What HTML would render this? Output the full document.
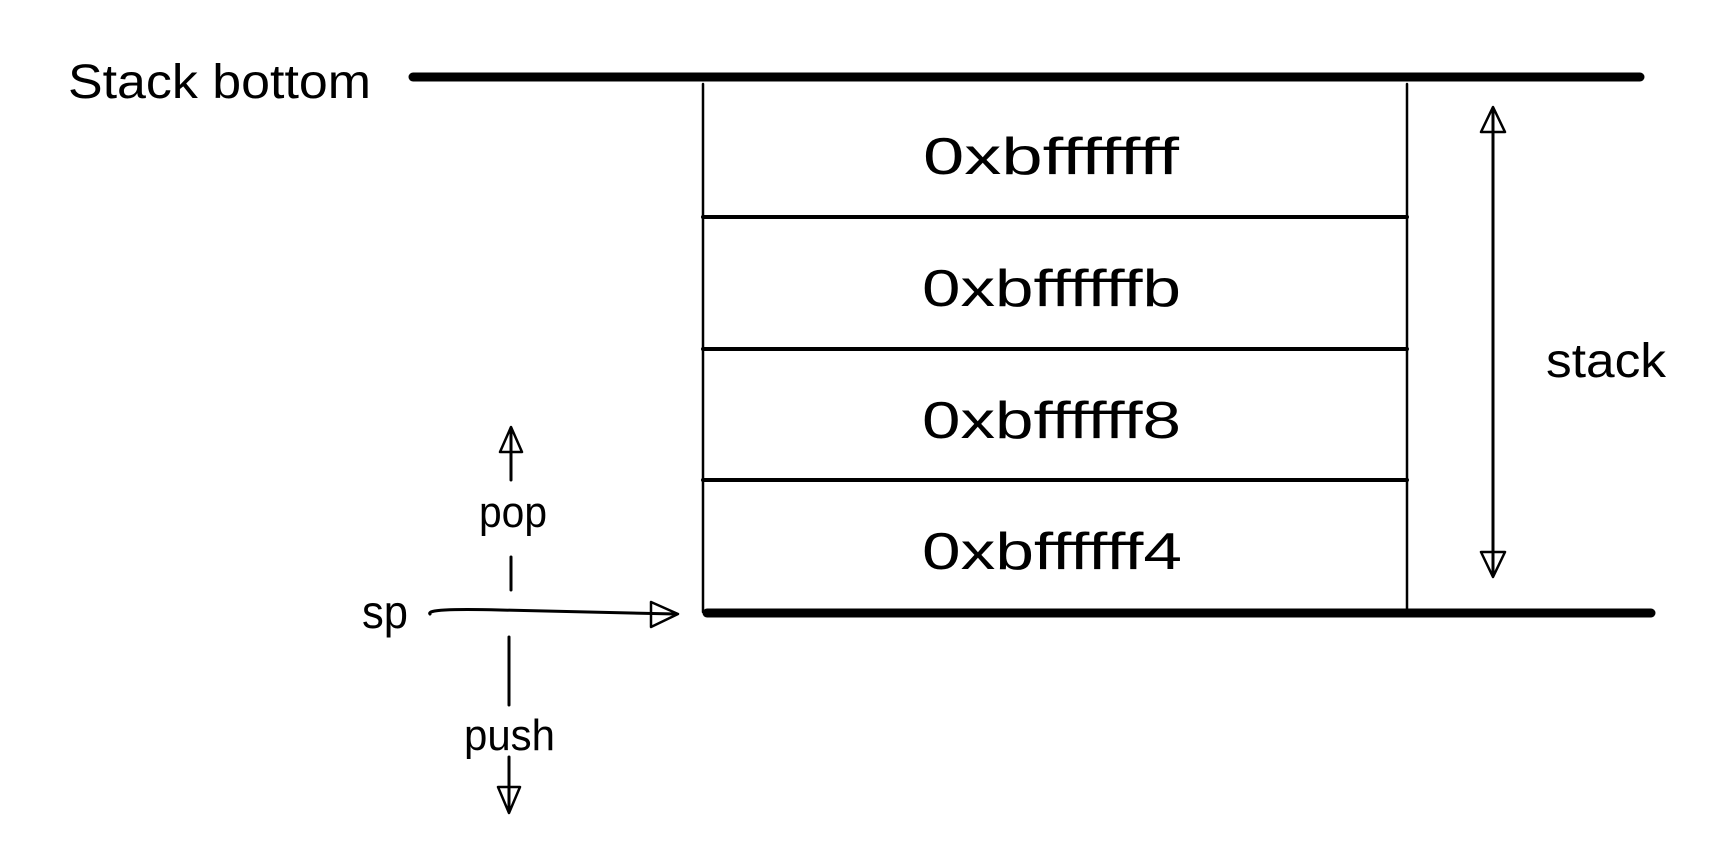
<!DOCTYPE html>
<html><head><meta charset="utf-8"><style>
html,body{margin:0;padding:0;background:#fff;}
svg{display:block}
text{font-family:"Liberation Sans",sans-serif;fill:#000;}
</style></head><body>
<svg width="1728" height="856" viewBox="0 0 1728 856" xmlns="http://www.w3.org/2000/svg">
<g stroke="#000" fill="none" stroke-linecap="round" stroke-linejoin="round">
  <line x1="413" y1="77" x2="1640" y2="77" stroke-width="9"/>
  <line x1="707" y1="613" x2="1651" y2="613" stroke-width="9"/>
  <line x1="703" y1="84" x2="703" y2="612" stroke-width="2.5"/>
  <line x1="1407" y1="84" x2="1407" y2="612" stroke-width="2.5"/>
  <line x1="703" y1="217" x2="1407" y2="217" stroke-width="4"/>
  <line x1="703" y1="349" x2="1407" y2="349" stroke-width="4"/>
  <line x1="703" y1="480" x2="1407" y2="480" stroke-width="4"/>
  <line x1="1493" y1="108" x2="1493" y2="575" stroke-width="3"/>
  <polyline points="1481,132 1493,107 1505,132 1481,132" stroke-width="2.5"/>
  <polyline points="1481,552 1493,577 1505,552 1481,552" stroke-width="2.5"/>
  <line x1="511" y1="480" x2="511" y2="428" stroke-width="3"/>
  <line x1="511" y1="557" x2="511" y2="590" stroke-width="3"/>
  <polyline points="500,452 511,427 522,452 500,452" stroke-width="2.5"/>
  <path d="M430,614 Q425,608 500,610 L676,614" stroke-width="3"/>
  <polyline points="651,602 678,614 651,627 651,602" stroke-width="2.5"/>
  <line x1="509" y1="637" x2="509" y2="705" stroke-width="3"/>
  <line x1="509" y1="757" x2="509" y2="812" stroke-width="3"/>
  <polyline points="498,787 509,813 520,787 498,787" stroke-width="2.5"/>
</g>
<text x="68" y="98" font-size="48" textLength="303" lengthAdjust="spacingAndGlyphs">Stack bottom</text>
<g font-size="52">
  <text x="923" y="174" textLength="256" lengthAdjust="spacingAndGlyphs">0xbfffffff</text>
  <text x="922" y="306" textLength="259" lengthAdjust="spacingAndGlyphs">0xbffffffb</text>
  <text x="922" y="438" textLength="259" lengthAdjust="spacingAndGlyphs">0xbffffff8</text>
  <text x="922" y="569" textLength="260" lengthAdjust="spacingAndGlyphs">0xbffffff4</text>
</g>
<text x="1546" y="377" font-size="48" textLength="120" lengthAdjust="spacingAndGlyphs">stack</text>
<text x="479" y="527" font-size="44" textLength="68" lengthAdjust="spacingAndGlyphs">pop</text>
<text x="362" y="628" font-size="46" textLength="46" lengthAdjust="spacingAndGlyphs">sp</text>
<text x="464" y="750" font-size="44" textLength="91" lengthAdjust="spacingAndGlyphs">push</text>
</svg>
</body></html>
